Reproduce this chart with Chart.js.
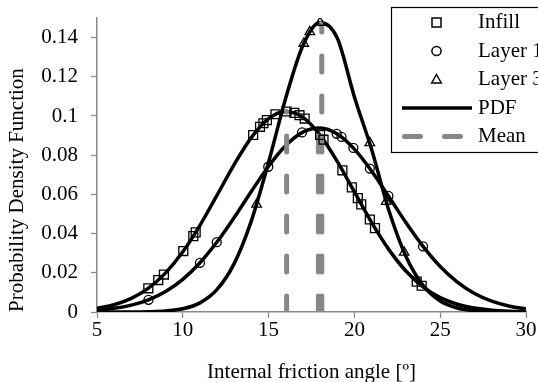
<!DOCTYPE html>
<html><head><meta charset="utf-8">
<script src="https://cdn.jsdelivr.net/npm/chart.js@4.4.0/dist/chart.umd.min.js"></script>
<style>html,body{margin:0;padding:0;background:#fff;}#wrap{width:538px;height:382px;position:relative;}</style>
</head><body><div id="wrap"><canvas id="c" width="538" height="382"></canvas></div>
<script>
// ---- data ----
const pdfX = [5,6,7,8,9,10,11,12,13,14,15,16,17,18,19,20,21,22,23,24,25,26,27,28,29,30];
const infillPdf = [0.00185,0.00370,0.00693,0.01215,0.01997,0.03071,0.04423,0.05966,0.07534,0.08909,0.09865,0.10229,0.09930,0.09027,0.07684,0.06125,0.04571,0.03195,0.02091,0.01281,0.00735,0.00395,0.00199,0.00094,0.00041,0.00017];
const layer1Pdf = [0.00094,0.00186,0.00350,0.00623,0.01048,0.01668,0.02513,0.03581,0.04829,0.06161,0.07437,0.08494,0.09179,0.09384,0.09078,0.08308,0.07194,0.05894,0.04569,0.03351,0.02325,0.01527,0.00948,0.00557,0.00310,0.00163];
const layer3Pdf = [0.0000011,0.0000064,0.0000316,0.000135,0.000505,0.00164,0.00466,0.01151,0.02482,0.04665,0.07644,0.10919,0.13599,0.14766,0.13977,0.10972,0.08299,0.05206,0.02847,0.01357,0.00564,0.00204,0.00065,0.00018,0.000043,0.0000089];

const infillX = [7.99,8.57,8.9,10.03,10.61,10.75,14.1,14.5,14.7,14.9,15.4,16.05,16.5,16.8,17.1,18.0,18.2,19.3,19.85,20.2,20.4,20.9,21.2,23.63,23.92];
const infillY = [0.0121,0.0163,0.0191,0.0311,0.0387,0.0406,0.0903,0.0945,0.0963,0.0979,0.1009,0.1023,0.1016,0.1004,0.0987,0.0903,0.0879,0.0723,0.0636,0.0581,0.0549,0.0472,0.0428,0.0155,0.0134];
const layer1X = [8.0,11.0,11.98,14.98,16.95,18.97,19.25,19.94,20.9,21.98,24.0];
const layer1Y = [0.0062,0.0251,0.0356,0.0741,0.0916,0.0909,0.0893,0.0837,0.0732,0.0592,0.0335];
const layer3X = [14.3,17.05,17.4,18.0,20.9,21.85,22.9];
const layer3Y = [0.0549,0.1370,0.1429,0.1477,0.0863,0.0563,0.0304];

const meanX = [16.05,17.9,18.1];
const meanTop = [0.1023,0.0939,0.1477];

const xTicks = [5,10,15,20,25,30];
const yTicks = [0,0.02,0.04,0.06,0.08,0.1,0.12,0.14];
const yTickLabels = ['0','0.02','0.04','0.06','0.08','0.1','0.12','0.14'];
const legendLabels = ['Infill','Layer 1','Layer 3','PDF','Mean'];
const xTitle = 'Internal friction angle [º]';
const yTitle = 'Probability Density Function';

// ---- build ----
const pts = (xs, ys) => xs.map((x, i) => ({x: x, y: ys[i]}));
const FONT = 'Liberation Serif, Times New Roman, serif';
const BLACK = '#000';
const GRAY = '#878787';
const AXIS = '#8a8a8a';

const markerBase = {type: 'scatter', showLine: false, borderColor: BLACK, backgroundColor: 'rgba(0,0,0,0)', pointBorderWidth: 1.3, pointHoverRadius: 0};
const curveBase = {type: 'scatter', showLine: true, borderColor: BLACK, borderWidth: 3.5, pointRadius: 0, pointHoverRadius: 0, cubicInterpolationMode: 'monotone', fill: false};
const meanBase = {type: 'scatter', showLine: true, borderColor: GRAY, borderWidth: 5, borderDash: [16, 24], borderCapStyle: 'round', pointRadius: 0, pointHoverRadius: 0, fill: false};

const datasets = [
  Object.assign({}, markerBase, {label: legendLabels[0], data: pts(infillX, infillY), pointStyle: 'rect', pointRadius: 6.3}),
  Object.assign({}, markerBase, {label: legendLabels[1], data: pts(layer1X, layer1Y), pointStyle: 'circle', pointRadius: 4.5}),
  Object.assign({}, markerBase, {label: legendLabels[2], data: pts(layer3X, layer3Y), pointStyle: 'triangle', pointRadius: 5.5}),
];
meanX.forEach((m, i) => datasets.push(Object.assign({}, meanBase, {label: legendLabels[4], data: [{x: m, y: 0}, {x: m, y: meanTop[i]}]})));
[infillPdf, layer1Pdf, layer3Pdf].forEach(arr => datasets.push(Object.assign({}, curveBase, {label: legendLabels[3], data: pts(pdfX, arr)})));

const legendPlugin = {
  id: 'boxLegend',
  afterDraw(chart) {
    const ctx = chart.ctx;
    ctx.save();
    const bx = 391.5, by = 7.5, bw = 170, bh = 145;
    ctx.fillStyle = '#fff';
    ctx.fillRect(bx, by, bw, bh);
    ctx.strokeStyle = BLACK; ctx.lineWidth = 1.2;
    ctx.strokeRect(bx, by, bw, bh);
    const rows = [22.5, 51, 79.5, 108, 136.5];
    const mx = 436.5;
    ctx.lineWidth = 1.5;
    // square
    ctx.strokeRect(mx - 4.5, rows[0] - 4.5, 9, 9);
    // circle
    ctx.beginPath(); ctx.arc(mx, rows[1], 4.6, 0, Math.PI * 2); ctx.stroke();
    // triangle
    ctx.beginPath();
    ctx.moveTo(mx, rows[2] - 5); ctx.lineTo(mx + 4.8, rows[2] + 3.5); ctx.lineTo(mx - 4.8, rows[2] + 3.5); ctx.closePath(); ctx.stroke();
    // PDF line
    ctx.beginPath(); ctx.lineWidth = 3.5; ctx.moveTo(402, rows[3]); ctx.lineTo(472, rows[3]); ctx.stroke();
    // Mean dashed
    ctx.beginPath(); ctx.strokeStyle = GRAY; ctx.lineWidth = 5; ctx.lineCap = 'round'; ctx.setLineDash([16, 24]);
    ctx.moveTo(404.5, rows[4]); ctx.lineTo(472, rows[4]); ctx.stroke();
    ctx.setLineDash([]);
    ctx.fillStyle = BLACK; ctx.font = '21px ' + FONT; ctx.textBaseline = 'middle'; ctx.textAlign = 'left';
    legendLabels.forEach((t, i) => ctx.fillText(t, 478, rows[i]));
    ctx.restore();
  }
};

Chart.defaults.font.family = FONT;
Chart.defaults.font.size = 21;
Chart.defaults.color = BLACK;

new Chart(document.getElementById('c'), {
  type: 'scatter',
  data: {datasets: datasets},
  options: {
    responsive: false,
    animation: false,
    devicePixelRatio: 1,
    layout: {padding: {left: 0, right: 12, top: 18, bottom: 0}},
    plugins: {legend: {display: false}, tooltip: {enabled: false}},
    scales: {
      x: {
        type: 'linear', min: 5, max: 30,
        afterBuildTicks: s => { s.ticks = xTicks.map(v => ({value: v})); },
        afterFit: s => { s.height = 70; s.paddingLeft = 0; s.paddingRight = 0; },
        ticks: {padding: 0, color: BLACK, font: {size: 21}, maxRotation: 0, callback: v => String(v)},
        grid: {display: true, drawOnChartArea: false, tickLength: 6, tickColor: AXIS, tickWidth: 1.3},
        border: {display: true, color: AXIS, width: 1.5},
        title: {display: true, text: xTitle, font: {size: 21}, color: BLACK, padding: {top: 0, bottom: -3}}
      },
      y: {
        type: 'linear', min: 0, max: 0.15,
        afterBuildTicks: s => { s.ticks = yTicks.map(v => ({value: v})); },
        afterFit: s => { s.width = 97; s.paddingTop = 0; s.paddingBottom = 0; },
        ticks: {padding: 13, color: BLACK, font: {size: 21}, callback: (v) => { const i = yTicks.indexOf(v); return i >= 0 ? yTickLabels[i] : ''; }},
        grid: {display: true, drawOnChartArea: false, tickLength: 6, tickColor: AXIS, tickWidth: 1.3},
        border: {display: true, color: AXIS, width: 1.5},
        title: {display: true, text: yTitle, align: 'start', font: {size: 21}, color: BLACK, padding: {top: 4.5, bottom: 0}}
      }
    }
  },
  plugins: [legendPlugin]
});
</script></body></html>
